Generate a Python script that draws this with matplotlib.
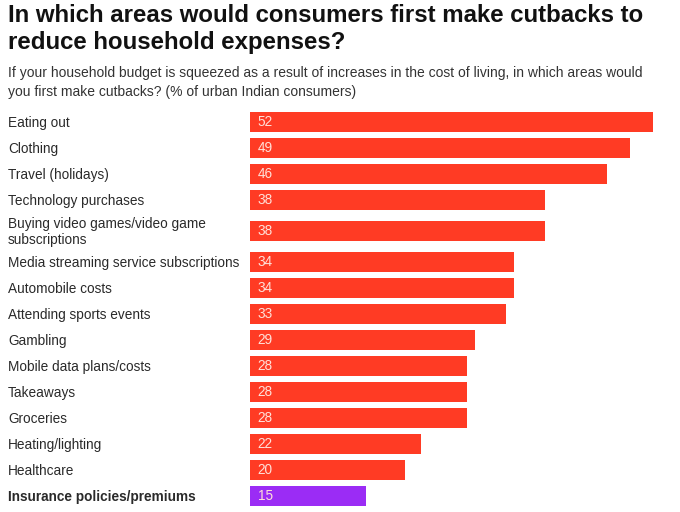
import matplotlib.pyplot as plt
from matplotlib.transforms import blended_transform_factory

categories = ['Eating out', 'Clothing', 'Travel (holidays)', 'Technology purchases',
              'Buying video games/video game\nsubscriptions',
              'Media streaming service subscriptions', 'Automobile costs',
              'Attending sports events', 'Gambling', 'Mobile data plans/costs',
              'Takeaways', 'Groceries', 'Heating/lighting', 'Healthcare',
              'Insurance policies/premiums']
values = [52, 49, 46, 38, 38, 34, 34, 33, 29, 28, 28, 28, 22, 20, 15]
highlight = 'Insurance policies/premiums'

plt.rcParams['font.family'] = ['Liberation Sans', 'DejaVu Sans']

W, H = 680, 512
fig = plt.figure(figsize=(W / 100, H / 100), dpi=100)
fig.patch.set_facecolor('white')

# axes spans full height, y in pixel units (top = 0)
ax = fig.add_axes([250 / W, 0, 403 / W, 1])
ax.set_xlim(0, 52)
ax.set_ylim(H, 0)
ax.axis('off')

# row layout: two-line labels get a taller row
centers = []
top = 109
for c in categories:
    h = 36 if '\n' in c else 26
    centers.append(top + h / 2)
    top += h

colors = ['#9b2cf5' if c == highlight else '#ff3b24' for c in categories]
ax.barh(centers, values, height=20, color=colors)

lab_tr = blended_transform_factory(fig.transFigure, ax.transData)
for c, v, y in zip(categories, values, centers):
    ax.text(8 / W, y + 1, c, transform=lab_tr, ha='left', va='center', fontsize=9.8,
            color='#2a2a2a', fontweight='bold' if c == highlight else 'normal',
            linespacing=1.1)
    ax.text(1.0, y, str(v), ha='left', va='center', fontsize=9.8,
            color='#ffe0d8')

fig.text(8 / W, 1 - 16 / H, 'In which areas would consumers first make cutbacks to',
         fontsize=17.3, fontweight='bold', color='#111111', va='center')
fig.text(8 / W, 1 - 43 / H, 'reduce household expenses?',
         fontsize=17.3, fontweight='bold', color='#111111', va='center')
fig.text(8 / W, 1 - 73 / H,
         'If your household budget is squeezed as a result of increases in the cost of living, in which areas would',
         fontsize=10, color='#333333', va='center')
fig.text(8 / W, 1 - 92 / H, 'you first make cutbacks? (% of urban Indian consumers)',
         fontsize=10, color='#333333', va='center')

fig.savefig('out.png', dpi=100)
